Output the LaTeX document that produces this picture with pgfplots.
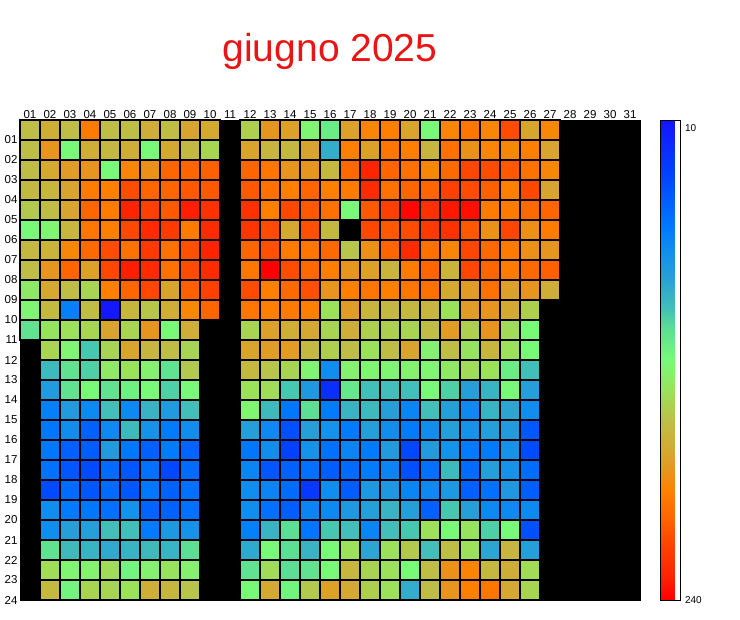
\documentclass[border=0pt]{standalone}
\usepackage{pgfplots}
\pgfplotsset{compat=1.18}
\usepackage{fontspec}
\setmainfont{Liberation Sans}
\pgfplotsset{
  colormap={heatr}{
    rgb255(0pt)=(255,0,0);
    rgb255(10pt)=(255,35,0);
    rgb255(24pt)=(255,70,0);
    rgb255(34pt)=(255,100,0);
    rgb255(46pt)=(255,130,0);
    rgb255(54pt)=(230,150,30);
    rgb255(63pt)=(210,170,50);
    rgb255(74pt)=(190,190,70);
    rgb255(87pt)=(155,225,90);
    rgb255(100pt)=(120,250,120);
    rgb255(114pt)=(90,220,150);
    rgb255(122pt)=(65,190,185);
    rgb255(134pt)=(40,160,215);
    rgb255(144pt)=(20,145,235);
    rgb255(156pt)=(0,120,255);
    rgb255(176pt)=(0,70,255);
    rgb255(200pt)=(20,20,255)
  }
}
\begin{document}
\begin{tikzpicture}
\useasboundingbox (0,0) rectangle (740pt,620pt);
\begin{axis}[
  at={(20pt,20pt)}, anchor=south west,
  x=20pt, y=20pt, y dir=reverse,
  xmin=0.5, xmax=31.5, ymin=0.5, ymax=24.5,
  axis background/.style={fill=black},
  axis line style={black, line width=0.8pt},
  xtick={1,...,31},
  xticklabels={01,02,03,04,05,06,07,08,09,10,11,12,13,14,15,16,17,18,19,20,21,22,23,24,25,26,27,28,29,30,31},
  xticklabel pos=upper,
  xticklabel style={yshift=-2pt},
  ytick={1.5,2.5,...,24.5},
  yticklabels={01,02,03,04,05,06,07,08,09,10,11,12,13,14,15,16,17,18,19,20,21,22,23,24},
  yticklabel style={xshift=1pt},
  major tick length=0pt,
  tick label style={font=\fontsize{11.5}{12}\selectfont},
  colormap name=heatr,
  point meta min=-240, point meta max=-10,
  colorbar,
  colorbar style={
    at={(parent axis.north east)}, anchor=north west, xshift=12pt,
    scale only axis, width=20pt, height=480pt,
    ytick={-240,-10},
    yticklabels={240,\raisebox{-12pt}[0pt][0pt]{10}},
    major tick length=0pt,
    yticklabel style={font=\fontsize{10}{11}\selectfont, xshift=1pt},
    axis line style={black},
  },
]
\addplot[scatter, only marks, mark=square*, mark size=10pt,
  mark options={line width=1.2pt},
  point meta=-\thisrow{v},
  scatter/use mapped color={draw=black, fill=mapped color}]
  table[row sep=\\, x=x, y=y] {
x y v\\
1 1 155\\2 1 165\\3 1 155\\4 1 190\\5 1 155\\6 1 155\\7 1 165\\8 1 155\\9 1 170\\10 1 168\\12 1 148\\13 1 178\\14 1 172\\15 1 128\\16 1 118\\17 1 172\\18 1 185\\19 1 188\\20 1 170\\21 1 125\\22 1 185\\23 1 192\\24 1 185\\25 1 210\\26 1 170\\27 1 185\\
1 2 155\\2 2 178\\3 2 125\\4 2 165\\5 2 158\\6 2 165\\7 2 125\\8 2 168\\9 2 158\\10 2 145\\12 2 170\\13 2 160\\14 2 158\\15 2 170\\16 2 92\\17 2 188\\18 2 172\\19 2 192\\20 2 188\\21 2 160\\22 2 195\\23 2 180\\24 2 185\\25 2 185\\26 2 188\\27 2 170\\
1 3 155\\2 3 168\\3 3 175\\4 3 178\\5 3 125\\6 3 185\\7 3 180\\8 3 200\\9 3 200\\10 3 202\\12 3 200\\13 3 192\\14 3 178\\15 3 178\\16 3 158\\17 3 198\\18 3 228\\19 3 200\\20 3 195\\21 3 185\\22 3 198\\23 3 212\\24 3 210\\25 3 205\\26 3 195\\27 3 185\\
1 4 158\\2 4 160\\3 4 170\\4 4 190\\5 4 188\\6 4 210\\7 4 200\\8 4 200\\9 4 205\\10 4 205\\12 4 205\\13 4 195\\14 4 188\\15 4 200\\16 4 188\\17 4 190\\18 4 225\\19 4 195\\20 4 200\\21 4 200\\22 4 215\\23 4 210\\24 4 202\\25 4 188\\26 4 212\\27 4 170\\
1 5 150\\2 5 155\\3 5 170\\4 5 200\\5 5 190\\6 5 228\\7 5 215\\8 5 205\\9 5 230\\10 5 222\\12 5 222\\13 5 188\\14 5 212\\15 5 205\\16 5 195\\17 5 125\\18 5 205\\19 5 215\\20 5 238\\21 5 222\\22 5 232\\23 5 235\\24 5 190\\25 5 190\\26 5 198\\27 5 200\\
1 6 125\\2 6 128\\3 6 160\\4 6 192\\5 6 188\\6 6 212\\7 6 225\\8 6 218\\9 6 190\\10 6 225\\12 6 220\\13 6 210\\14 6 168\\15 6 208\\16 6 158\\18 6 212\\19 6 205\\20 6 210\\21 6 218\\22 6 222\\23 6 205\\24 6 180\\25 6 212\\26 6 180\\27 6 190\\
1 7 158\\2 7 162\\3 7 185\\4 7 198\\5 7 210\\6 7 195\\7 7 218\\8 7 195\\9 7 208\\10 7 228\\12 7 200\\13 7 208\\14 7 190\\15 7 192\\16 7 198\\17 7 152\\18 7 180\\19 7 200\\20 7 225\\21 7 195\\22 7 185\\23 7 212\\24 7 198\\25 7 190\\26 7 180\\27 7 178\\
1 8 155\\2 8 178\\3 8 200\\4 8 172\\5 8 212\\6 8 230\\7 8 225\\8 8 195\\9 8 210\\10 8 225\\12 8 192\\13 8 240\\14 8 210\\15 8 198\\16 8 188\\17 8 178\\18 8 172\\19 8 162\\20 8 190\\21 8 200\\22 8 162\\23 8 212\\24 8 200\\25 8 190\\26 8 198\\27 8 202\\
1 9 135\\2 9 168\\3 9 155\\4 9 145\\5 9 188\\6 9 200\\7 9 212\\8 9 170\\9 9 202\\10 9 215\\12 9 210\\13 9 188\\14 9 198\\15 9 208\\16 9 178\\17 9 188\\18 9 192\\19 9 188\\20 9 192\\21 9 195\\22 9 168\\23 9 175\\24 9 195\\25 9 172\\26 9 178\\27 9 165\\
1 10 128\\2 10 158\\3 10 65\\4 10 155\\5 10 12\\6 10 160\\7 10 152\\8 10 165\\9 10 185\\10 10 200\\12 10 192\\13 10 188\\14 10 190\\15 10 188\\16 10 140\\17 10 175\\18 10 160\\19 10 158\\20 10 158\\21 10 160\\22 10 140\\23 10 175\\24 10 178\\25 10 168\\26 10 148\\
1 11 112\\2 11 138\\3 11 140\\4 11 145\\5 11 170\\6 11 145\\7 11 178\\8 11 125\\9 11 165\\12 11 145\\13 11 172\\14 11 165\\15 11 168\\16 11 145\\17 11 165\\18 11 148\\19 11 148\\20 11 145\\21 11 155\\22 11 175\\23 11 148\\24 11 178\\25 11 142\\26 11 125\\
2 12 145\\3 12 128\\4 12 102\\5 12 145\\6 12 170\\7 12 160\\8 12 155\\9 12 145\\12 12 170\\13 12 175\\14 12 175\\15 12 158\\16 12 148\\17 12 155\\18 12 140\\19 12 155\\20 12 170\\21 12 130\\22 12 155\\23 12 138\\24 12 160\\25 12 140\\26 12 125\\
2 13 98\\3 13 112\\4 13 105\\5 13 135\\6 13 140\\7 13 130\\8 13 112\\9 13 150\\12 13 158\\13 13 152\\14 13 145\\15 13 128\\16 13 72\\17 13 130\\18 13 128\\19 13 128\\20 13 130\\21 13 128\\22 13 135\\23 13 142\\24 13 140\\25 13 118\\26 13 100\\
2 14 82\\3 14 112\\4 14 125\\5 14 112\\6 14 120\\7 14 125\\8 14 105\\9 14 125\\12 14 140\\13 14 142\\14 14 102\\15 14 80\\16 14 25\\17 14 115\\18 14 100\\19 14 100\\20 14 100\\21 14 125\\22 14 105\\23 14 85\\24 14 95\\25 14 125\\26 14 85\\
2 15 65\\3 15 82\\4 15 70\\5 15 100\\6 15 70\\7 15 95\\8 15 82\\9 15 100\\12 15 128\\13 15 98\\14 15 60\\15 15 110\\16 15 62\\17 15 95\\18 15 98\\19 15 85\\20 15 68\\21 15 100\\22 15 85\\23 15 70\\24 15 95\\25 15 88\\26 15 72\\
2 16 60\\3 16 72\\4 16 50\\5 16 70\\6 16 98\\7 16 75\\8 16 62\\9 16 72\\12 16 85\\13 16 70\\14 16 42\\15 16 85\\16 16 75\\17 16 62\\18 16 85\\19 16 72\\20 16 62\\21 16 72\\22 16 85\\23 16 75\\24 16 85\\25 16 82\\26 16 45\\
2 17 60\\3 17 50\\4 17 48\\5 17 82\\6 17 60\\7 17 50\\8 17 62\\9 17 52\\12 17 60\\13 17 72\\14 17 35\\15 17 75\\16 17 58\\17 17 68\\18 17 62\\19 17 82\\20 17 38\\21 17 82\\22 17 75\\23 17 62\\24 17 62\\25 17 75\\26 17 40\\
2 18 58\\3 18 45\\4 18 40\\5 18 55\\6 18 45\\7 18 58\\8 18 38\\9 18 55\\12 18 68\\13 18 45\\14 18 50\\15 18 58\\16 18 48\\17 18 55\\18 18 62\\19 18 68\\20 18 42\\21 18 58\\22 18 98\\23 18 55\\24 18 85\\25 18 75\\26 18 55\\
2 19 40\\3 19 55\\4 19 45\\5 19 55\\6 19 45\\7 19 60\\8 19 50\\9 19 58\\12 19 72\\13 19 68\\14 19 55\\15 19 30\\16 19 72\\17 19 48\\18 19 80\\19 19 80\\20 19 68\\21 19 70\\22 19 80\\23 19 50\\24 19 58\\25 19 80\\26 19 48\\
2 20 72\\3 20 62\\4 20 60\\5 20 58\\6 20 75\\7 20 52\\8 20 50\\9 20 58\\12 20 72\\13 20 58\\14 20 48\\15 20 68\\16 20 70\\17 20 80\\18 20 85\\19 20 95\\20 20 85\\21 20 50\\22 20 102\\23 20 85\\24 20 70\\25 20 70\\26 20 70\\
2 21 72\\3 21 85\\4 21 85\\5 21 100\\6 21 100\\7 21 62\\8 21 80\\9 21 75\\12 21 65\\13 21 95\\14 21 110\\15 21 60\\16 21 102\\17 21 100\\18 21 68\\19 21 100\\20 21 102\\21 21 140\\22 21 125\\23 21 138\\24 21 105\\25 21 125\\26 21 42\\
2 22 112\\3 22 98\\4 22 95\\5 22 90\\6 22 95\\7 22 98\\8 22 95\\9 22 110\\12 22 90\\13 22 125\\14 22 110\\15 22 95\\16 22 125\\17 22 140\\18 22 88\\19 22 140\\20 22 150\\21 22 100\\22 22 155\\23 22 140\\24 22 88\\25 22 160\\26 22 85\\
2 23 142\\3 23 128\\4 23 130\\5 23 142\\6 23 122\\7 23 130\\8 23 138\\9 23 130\\12 23 112\\13 23 142\\14 23 110\\15 23 112\\16 23 125\\17 23 160\\18 23 145\\19 23 140\\20 23 125\\21 23 155\\22 23 180\\23 23 186\\24 23 158\\25 23 165\\26 23 142\\
2 24 158\\3 24 122\\4 24 145\\5 24 145\\6 24 140\\7 24 165\\8 24 160\\9 24 152\\12 24 125\\13 24 168\\14 24 122\\15 24 150\\16 24 172\\17 24 168\\18 24 148\\19 24 140\\20 24 92\\21 24 155\\22 24 178\\23 24 188\\24 24 192\\25 24 168\\26 24 145\\
};
\end{axis}
\node[text={rgb,255:red,235;green,20;blue,20}, font=\fontsize{39}{44}\selectfont, anchor=base] at (330pt,558pt) {giugno 2025};
\end{tikzpicture}
\end{document}
